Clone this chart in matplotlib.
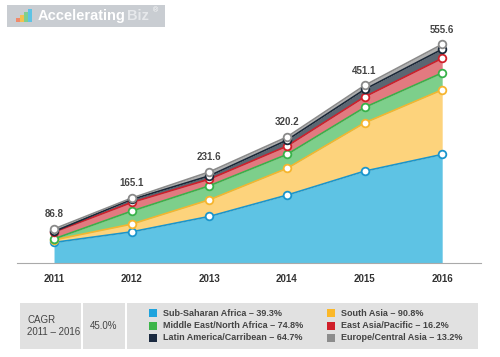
import matplotlib.pyplot as plt
from matplotlib.patches import Rectangle
import numpy as np

years = [2011, 2012, 2013, 2014, 2015, 2016]
totals = [86.8, 165.1, 231.6, 320.2, 451.1, 555.6]

sub_saharan = [52.5, 79.4, 118.5, 172.6, 233.5, 276.0]
south_asia = [6.4, 19.6, 42.2, 67.8, 122.6, 164.0]
mena = [2.6, 33.0, 35.5, 35.5, 39.1, 43.0]
east_asia = [17.3, 22.0, 17.0, 21.1, 26.9, 37.0]
latin_am = [1.6, 7.6, 8.4, 15.2, 18.8, 23.0]
europe = [6.4, 3.5, 10.0, 8.0, 10.2, 12.6]

series = [sub_saharan, south_asia, mena, east_asia, latin_am, europe]
fills = ['#5ec3e4', '#fdd37c', '#7dcf8b', '#e27a80', '#5b6672', '#b0b0b0']
edges = ['#1a95cc', '#f6b52e', '#38b24a', '#d01f2a', '#1b2838', '#8a8a8a']

legend_labels = ['Sub-Saharan Africa \u2013 39.3%', 'Middle East/North Africa \u2013 74.8%',
                 'Latin America/Carribean \u2013 64.7%', 'South Asia \u2013 90.8%',
                 'East Asia/Pacific \u2013 16.2%', 'Europe/Central Asia \u2013 13.2%']
legend_colors = ['#1ea3dd', '#3cb54a', '#1b2a40', '#fbb829', '#d01f2a', '#8c8c8c']

plt.rcParams['font.family'] = ['Liberation Sans', 'DejaVu Sans']

fig = plt.figure(figsize=(5, 3.57), dpi=100)
ax = fig.add_axes([0.034, 0.263, 0.928, 0.662])

x = np.array(years)
bottom = np.zeros(len(years))
for vals, fc, ec in zip(series, fills, edges):
    top = bottom + np.array(vals)
    ax.fill_between(x, bottom, top, color=fc, lw=0)
    ax.plot(x, top, color=ec, lw=1.2)
    bottom = top

bottom = np.zeros(len(years))
for vals, ec in zip(series, edges):
    top = bottom + np.array(vals)
    ax.plot(x, top, 'o', ms=5.5, mfc='white', mec=ec, mew=1.3, zorder=5)
    bottom = top

for yr, t in zip(years, totals):
    ax.annotate(f'{t:.1f}', (yr, t), xytext=(0, 7), textcoords='offset points',
                ha='center', va='bottom', fontsize=7, fontweight='bold', color='#444444')

ax.set_xlim(2011 - 0.477, 2016 + 0.5)
ax.set_ylim(0, 600)
ax.set_xticks(years)
ax.set_xticklabels([str(y) for y in years], fontsize=7, fontweight='bold', color='#333333')
ax.tick_params(axis='x', length=0, pad=8)
ax.set_yticks([])
for s in ['top', 'right', 'left']:
    ax.spines[s].set_visible(False)
ax.spines['bottom'].set_color('#aaaaaa')

# logo
W, H = 500, 357
def px(x0, y0, w, h):
    return (x0 / W, 1 - (y0 + h) / H, w / W, h / H)

lx, ly, lw, lh = px(7, 5, 158, 22)
fig.patches.append(Rectangle((lx, ly), lw, lh, transform=fig.transFigure,
                             facecolor='#c9cdd2', edgecolor='none'))
fig.text(38 / W, 1 - 16 / H, 'Accelerating', fontsize=10.5, fontweight='bold',
         color='white', va='center')
fig.text(127 / W, 1 - 16 / H, 'Biz', fontsize=10.5, fontweight='bold',
         color='#e6e8eb', va='center')
fig.text(153 / W, 1 - 11 / H, '\u00ae', fontsize=5, color='white', va='center')
for i, c in enumerate(['#f08a6b', '#f5c04f', '#7fcf8e', '#5ec3e4']):
    hh = 4 + i * 3
    bx, by, bw, bh = px(16 + i * 4, 22 - hh, 3.5, hh)
    fig.patches.append(Rectangle((bx, by), bw, bh, transform=fig.transFigure,
                                 facecolor=c, edgecolor='none'))

# CAGR table
for x0, w in [(20, 61), (83, 42), (127, 351)]:
    rx, ry, rw, rh = px(x0, 303, w, 46)
    fig.patches.append(Rectangle((rx, ry), rw, rh, transform=fig.transFigure,
                                 facecolor='#e1e1e1', edgecolor='none'))
fig.text(27 / W, 1 - 326 / H, 'CAGR\n2011 \u2013 2016', fontsize=7, color='#444444',
         va='center', linespacing=1.3)
fig.text(104 / W, 1 - 326 / H, '45.0%', fontsize=7, color='#444444',
         va='center', ha='center')

rows = [313, 326, 338]
for i, (lab, c) in enumerate(zip(legend_labels, legend_colors)):
    col = i // 3
    yy = rows[i % 3]
    sx = 149 if col == 0 else 327
    tx = 163 if col == 0 else 341
    bx, by, bw, bh = px(sx, yy - 4, 8, 8)
    fig.patches.append(Rectangle((bx, by), bw, bh, transform=fig.transFigure,
                                 facecolor=c, edgecolor='none'))
    fig.text(tx / W, 1 - yy / H, lab, fontsize=6.5, color='#444444',
             va='center', fontweight='bold')

fig.savefig('out.png', dpi=100)
